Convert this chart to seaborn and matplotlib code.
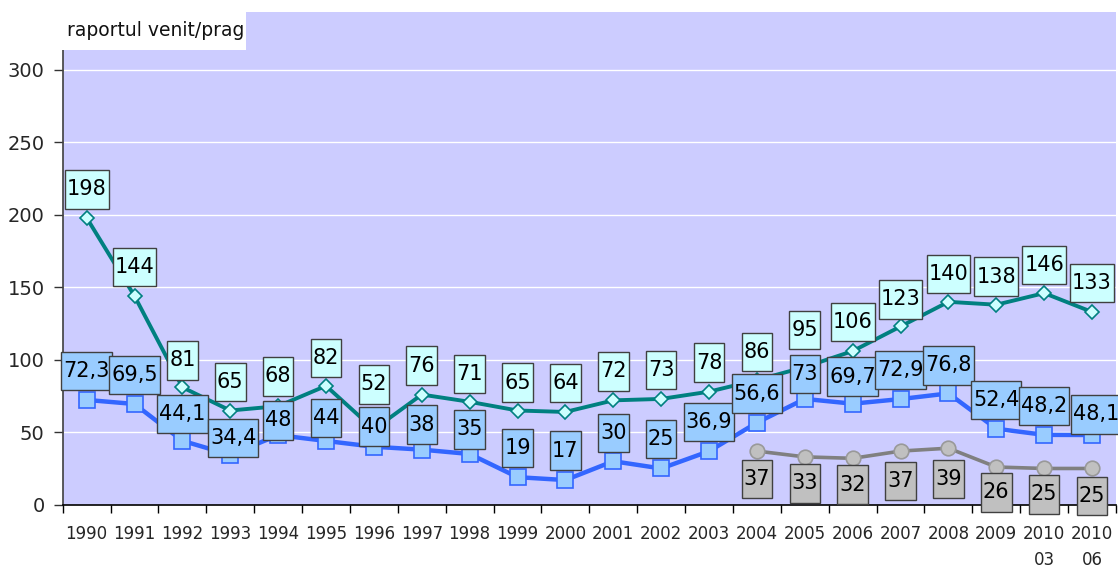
import os
import numpy as np
import pandas as pd
import matplotlib
matplotlib.use("Agg")
import matplotlib.pyplot as plt
import seaborn as sns
from matplotlib.patches import Rectangle
from matplotlib.transforms import IdentityTransform
from matplotlib import font_manager as fm

# ---------------- data ----------------
categories = ["1990", "1991", "1992", "1993", "1994", "1995", "1996", "1997",
              "1998", "1999", "2000", "2001", "2002", "2003", "2004", "2005",
              "2006", "2007", "2008", "2009", "2010\n03", "2010\n06"]
teal_values = [198, 144, 81, 65, 68, 82, 52, 76, 71, 65, 64, 72, 73, 78, 86,
               95, 106, 123, 140, 138, 146, 133]
blue_values = [72.3, 69.5, 44.1, 34.4, 48, 44, 40, 38, 35, 19, 17, 30, 25,
               36.9, 56.6, 73, 69.7, 72.9, 76.8, 52.4, 48.2, 48.1]
gray_categories = ["2004", "2005", "2006", "2007", "2008", "2009", "2010\n03", "2010\n06"]
gray_values = [37, 33, 32, 37, 39, 26, 25, 25]
y_ticks = [0, 50, 100, 150, 200, 250, 300]
axis_title = "raportul venit/prag"

# label offsets in pixels (style only)
teal_dy = [28.5, 29, 27, 28.7, 29.7, 28, 45, 29, 28, 28, 29, 29, 29, 29, 28,
           37, 29, 27, 28, 28, 28.3, 29]
blue_dy = [29, 29, 27, 16.7, 14.7, 23, 20, 25, 24.5, 29, 29.5, 28, 29.5, 29,
           29, 25, 27, 29, 28, 29, 29, 20.5]
blue_dx = [0, 0, 0, 3, 0, 0, 0, 0, 0, 0, 0, 0, 0, 0, 0, 0, 0, 0, 0, 0, 0, 4]
gray_dy = [-27.7, -26.5, -26.4, -29.7, -30.8, -25.3, -26, -27.5]

# ---------------- style ----------------
sns.set_theme(style="ticks")
plt.rcParams["font.family"] = ["DejaVu Sans"]

tick_fp = fm.FontProperties(family="DejaVu Sans", size=12)
tick_ls = 1.6
lab_fp = fm.FontProperties(family="DejaVu Sans", size=15)

W, H = 1118, 569
fig = plt.figure(figsize=(W / 100, H / 100), dpi=100)
ax = fig.add_axes([62.7 / W, (H - 504.7) / H, (1116 - 62.7) / W, (504.7 - 12) / H])
ax.set_facecolor("#CCCCFF")

pos = {c: i for i, c in enumerate(categories)}
df = pd.DataFrame({"x": [pos[c] for c in categories], "teal": teal_values, "blue": blue_values})
dg = pd.DataFrame({"x": [pos[c] for c in gray_categories], "gray": gray_values})

sns.lineplot(data=df, x="x", y="teal", ax=ax, color="#008080", lw=2.8,
             marker="D", markersize=7, markerfacecolor="#CCFFFF",
             markeredgecolor="#008080", markeredgewidth=1.2, errorbar=None, zorder=3)
sns.lineplot(data=df, x="x", y="blue", ax=ax, color="#3366FF", lw=3.2,
             marker="s", markersize=11, markerfacecolor="#99CCFF",
             markeredgecolor="#3366FF", markeredgewidth=1.2, errorbar=None, zorder=4)
sns.lineplot(data=dg, x="x", y="gray", ax=ax, color="#808080", lw=2.6,
             marker="o", markersize=10.5, markerfacecolor="#C0C0C0",
             markeredgecolor="#999999", markeredgewidth=1.2, errorbar=None, zorder=4)

n = len(categories)
ax.set_xlim(-0.5, n - 0.5)
ax.set_ylim(0, 340)
ax.set_xlabel("")
ax.set_ylabel("")
ax.set_xticks(np.arange(n))
ax.set_xticklabels(categories, fontproperties=tick_fp, linespacing=tick_ls)
ax.set_xticks(np.arange(n + 1) - 0.5, minor=True)
ax.tick_params(axis="x", which="major", length=0, pad=14.5, bottom=True)
ax.tick_params(axis="x", which="minor", length=6, width=1, color="black", bottom=True)
ax.set_yticks(y_ticks)
ax.set_yticklabels([str(t) for t in y_ticks])
ax.tick_params(axis="y", length=6.5, width=1, color="#333333", pad=6.5, labelsize=14,
               left=True)
ax.grid(axis="y", color="white", lw=1)
ax.grid(axis="x", visible=False)
ax.set_axisbelow(True)
for s in ["top", "right"]:
    ax.spines[s].set_visible(False)
ax.spines["left"].set_color("#404040")
ax.spines["left"].set_linewidth(1.2)
ax.spines["bottom"].set_color("black")
ax.spines["bottom"].set_linewidth(1.2)


def fmt(v):
    return str(int(v)) if float(v).is_integer() else f"{v:.1f}".replace(".", ",")


labels = []
for i, v in enumerate(teal_values):
    t = ax.annotate(fmt(v), xy=(i, v), xytext=(0, teal_dy[i]), textcoords="offset pixels",
                    ha="center", va="center", fontproperties=lab_fp, zorder=11,
                    annotation_clip=False, color="black")
    labels.append((t, "#CCFFFF"))
for i, v in enumerate(blue_values):
    t = ax.annotate(fmt(v), xy=(i, v), xytext=(blue_dx[i], blue_dy[i]), textcoords="offset pixels",
                    ha="center", va="center", fontproperties=lab_fp, zorder=11,
                    annotation_clip=False, color="black")
    labels.append((t, "#99CCFF"))
for j, (c, v) in enumerate(zip(gray_categories, gray_values)):
    t = ax.annotate(fmt(v), xy=(pos[c], v), xytext=(0, gray_dy[j]), textcoords="offset pixels",
                    ha="center", va="center", fontproperties=lab_fp, zorder=11,
                    annotation_clip=False, color="black")
    labels.append((t, "#C0C0C0"))

fig.canvas.draw()
r = fig.canvas.get_renderer()
for t, fc in labels:
    bb = t.get_window_extent(r)
    cx = (bb.x0 + bb.x1) / 2
    cy = (bb.y0 + bb.y1) / 2
    w = bb.width + 4
    h = 38.5
    ax.add_artist(Rectangle((cx - w / 2, cy - h / 2), w, h, transform=IdentityTransform(),
                            facecolor=fc, edgecolor="#404040", lw=1.0, zorder=10,
                            clip_on=False))

# title box
ax.add_artist(Rectangle((58, H - 50), 246 - 58, 40, transform=IdentityTransform(),
                        facecolor="white", edgecolor="none", zorder=10, clip_on=False))
ax.text(67, H - 30, axis_title, transform=IdentityTransform(), ha="left", va="center",
        fontsize=13.5, color="#111111", zorder=11)

fig.savefig("out.png", dpi=100)
